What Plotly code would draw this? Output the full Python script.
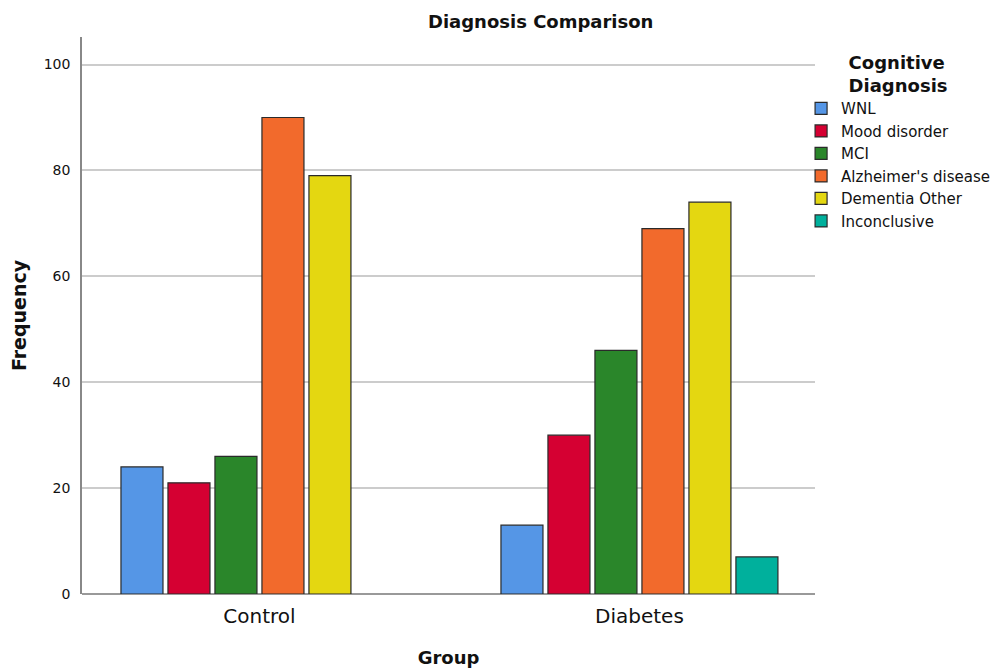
import plotly.graph_objects as go

groups = ["Control", "Diabetes"]
diagnoses = ["WNL", "Mood disorder", "MCI", "Alzheimer's disease", "Dementia Other", "Inconclusive"]
values = {
    "WNL": [24, 13],
    "Mood disorder": [21, 30],
    "MCI": [26, 46],
    "Alzheimer's disease": [90, 69],
    "Dementia Other": [79, 74],
    "Inconclusive": [None, 7],
}
colors = ["#5596E6", "#D50032", "#2A862A", "#F26A2C", "#E4D711", "#00B09C"]
yticks = [0, 20, 40, 60, 80, 100]

FONT = "DejaVu Sans"

fig = go.Figure()
for d, c in zip(diagnoses, colors):
    fig.add_trace(go.Bar(
        x=groups, y=values[d], name=d,
        marker=dict(color=c, line=dict(color="#2a2a2a", width=1.2)),
    ))

fig.update_layout(
    width=1007, height=671,
    margin=dict(l=74, r=200, t=29, b=85),
    paper_bgcolor="white", plot_bgcolor="white",
    barmode="group", bargap=0.258, bargroupgap=0.106,
    font=dict(family=FONT, color="#111111"),
    title=dict(text="<b>Diagnosis Comparison</b>", x=0.529, xanchor="center",
               y=0.98, yanchor="middle", font=dict(size=18, family=FONT)),
    xaxis=dict(
        range=[-0.467, 1.462], showgrid=False, showline=False, automargin=False,
        tickfont=dict(size=20), ticks="", ticklabelstandoff=8,
        title=dict(text="<b>Group</b>", font=dict(size=18), standoff=24),
    ),
    yaxis=dict(
        range=[0, 105.2], tickvals=yticks, showgrid=True, gridcolor="#CCCCCC", gridwidth=1.5,
        showline=True, linecolor="#888888", linewidth=1.5, zeroline=True, automargin=False,
        zerolinecolor="#999999", zerolinewidth=2,
        tickfont=dict(size=14), ticks="", ticklabelstandoff=7,
        title=dict(text="<b>Frequency</b>", font=dict(size=19), standoff=17),
    ),
    legend=dict(
        x=0.981, y=0.985, xanchor="left", yanchor="top", bgcolor="rgba(0,0,0,0)",
        font=dict(size=15), tracegroupgap=0, itemwidth=30,
        title=dict(text="<b>Cognitive<br>Diagnosis</b>", font=dict(size=18), side="top center"),
    ),
)

fig.write_html("out.html")
